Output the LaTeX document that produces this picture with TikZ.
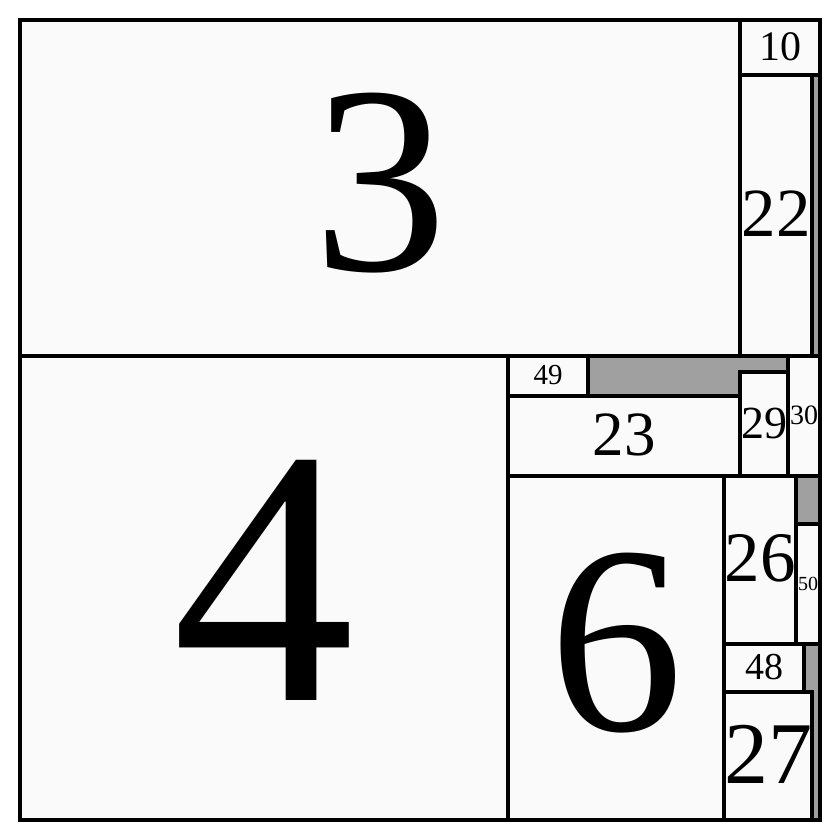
\documentclass[tikz,border=0pt]{standalone}
\usepackage{fontspec}
\setmainfont{Liberation Serif}
\definecolor{cgap}{HTML}{A0A0A0}
\definecolor{cpaper}{HTML}{FAFAFA}
\tikzset{
  every picture/.style={line width=3.4pt},
  cell/.style={draw=black, fill=cpaper},
  num/.style={inner sep=0pt, text=black},
}
\begin{document}
\begin{tikzpicture}[x=1pt, y=-1pt]
  \useasboundingbox (0,0) rectangle (840,840);
  % the gaps between the pieces show through as grey
  \fill[cgap] (20,20) rectangle (820,820);
  \foreach \n/\xa/\ya/\xb/\yb/\s in {3/20/20/740/356/268, 10/740/20/820/75/42, 22/740/75/812/356/69,
      4/20/356/508/820/365, 49/508/356/588/396/29, 30/788/356/820/476/28, 23/508/396/740/476/63,
      29/740/372/788/476/46, 6/508/476/724/820/268, 26/724/476/796/644/71, 50/796/524/820/644/20,
      48/724/644/804/692/38, 27/724/692/812/820/88} {
    \draw[cell] (\xa,\ya) rectangle (\xb,\yb);
    \node[num, font=\fontsize{\s}{\s}\selectfont, yshift=0.02*\s pt] (n\n) at ({(\xa+\xb)/2},{(\ya+\yb)/2}) {\n};
  }
  \draw (20,20) rectangle (820,820);
\end{tikzpicture}
\end{document}
